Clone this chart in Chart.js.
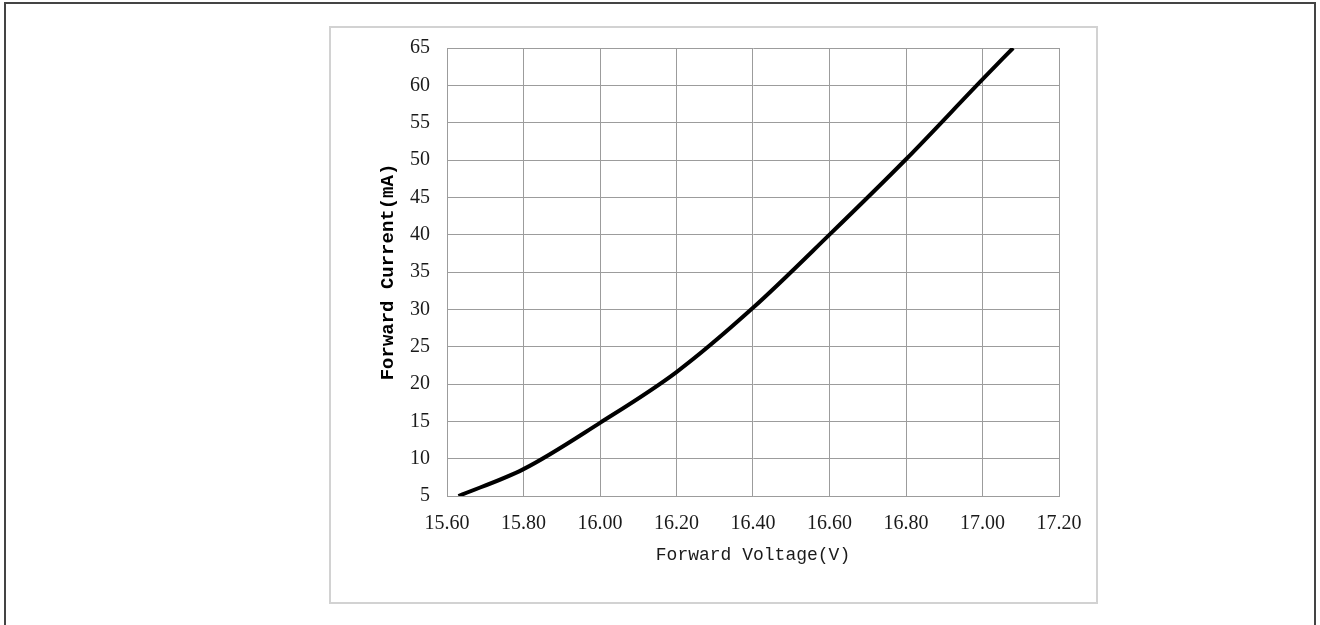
<!DOCTYPE html>
<html>
<head>
<meta charset="utf-8">
<title>Forward Current vs Forward Voltage</title>
<script src="https://cdn.jsdelivr.net/npm/chart.js@4.4.1/dist/chart.umd.min.js"></script>
<style>
  html, body { margin: 0; padding: 0; background: #fff; overflow: hidden; }
  .frame {
    position: absolute; left: 4px; top: 2px; width: 1312px; height: 660px;
    box-sizing: border-box; border: 2px solid #444;
  }
  .box {
    position: absolute; left: 329px; top: 26px; width: 769px; height: 578px;
    box-sizing: border-box; border: 2px solid #d2d2d2;
  }
  #ivChart { position: absolute; left: 0; top: 0; }
</style>
</head>
<body>
<div class="frame"></div>
<div class="box"></div>
<canvas id="ivChart" width="1320" height="625"></canvas>
<script>
// forward voltage (V) / forward current (mA)
const voltage = [15.63, 15.80, 16.00, 16.20, 16.40, 16.60, 16.80, 17.00, 17.08];
const current = [5.0, 8.6, 14.8, 21.6, 30.2, 40.0, 50.1, 60.8, 65.0];

const xTicks = [15.6, 15.8, 16.0, 16.2, 16.4, 16.6, 16.8, 17.0, 17.2];
const yTicks = [5, 10, 15, 20, 25, 30, 35, 40, 45, 50, 55, 60, 65];

const gridGrey = '#9c9c9c';
const tickFont = { family: "'Liberation Serif', 'Times New Roman', serif", size: 20 };

const points = voltage.map((v, i) => ({ x: v, y: current[i] }));

new Chart(document.getElementById('ivChart'), {
  type: 'line',
  data: {
    datasets: [{
      data: points,
      borderColor: '#000',
      borderWidth: 4,
      pointRadius: 0,
      cubicInterpolationMode: 'monotone',
      fill: false,
    }],
  },
  options: {
    responsive: false,
    devicePixelRatio: 1,
    animation: false,
    layout: { padding: { left: 377, right: 261, top: 48, bottom: 59 } },
    plugins: { legend: { display: false }, tooltip: { enabled: false } },
    scales: {
      x: {
        type: 'linear',
        min: 15.6,
        max: 17.2,
        afterBuildTicks: (s) => { s.ticks = xTicks.map((v) => ({ value: v })); },
        afterFit: (s) => { s.height = 70; },
        grid: { color: gridGrey, lineWidth: 1, drawTicks: false },
        border: { color: gridGrey, width: 1 },
        ticks: {
          padding: 16,
          color: '#1a1a1a',
          font: tickFont,
          maxRotation: 0,
          callback: (v) => Number(v).toFixed(2),
        },
        title: {
          display: true,
          text: 'Forward Voltage(V)',
          color: '#1a1a1a',
          padding: 0,
          font: { family: "'Liberation Mono', 'DejaVu Sans Mono', monospace", size: 18 },
        },
      },
      y: {
        min: 5,
        max: 65,
        afterBuildTicks: (s) => { s.ticks = yTicks.map((v) => ({ value: v })); },
        afterFit: (s) => { s.width = 70; },
        grid: { color: gridGrey, lineWidth: 1, drawTicks: false },
        border: { color: gridGrey, width: 1 },
        ticks: { padding: 17, color: '#1a1a1a', font: tickFont },
        title: {
          display: true,
          text: 'Forward Current(mA)',
          color: '#000',
          padding: 0,
          font: { family: "'Liberation Mono', 'DejaVu Sans Mono', monospace", size: 19, weight: 'bold' },
        },
      },
    },
  },
});
</script>
</body>
</html>
